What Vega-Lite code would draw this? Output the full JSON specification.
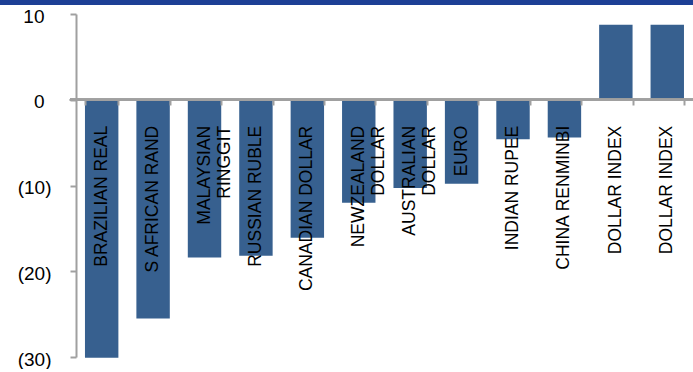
{
  "$schema": "https://vega.github.io/schema/vega-lite/v6.json",
  "padding": 0,
  "background": "white",
  "config": {"view": {"stroke": null}, "font": "Liberation Sans"},
  "spacing": 2,
  "vconcat": [
    {
      "width": 693,
      "height": 5,
      "data": {"values": [{"band": "header"}]},
      "mark": {"type": "rect", "color": "#1d3f95"},
      "encoding": {}
    },
    {
      "width": 693,
      "height": 343,
      "data": {
        "values": [
          {"pos": 1, "label": "BRAZILIAN REAL", "value": -30.1},
          {"pos": 2, "label": "S AFRICAN RAND", "value": -25.5},
          {"pos": 3, "label": ["MALAYSIAN", "RINGGIT"], "value": -18.4},
          {"pos": 4, "label": "RUSSIAN RUBLE", "value": -18.2},
          {"pos": 5, "label": "CANADIAN DOLLAR", "value": -16.1},
          {"pos": 6, "label": ["NEWZEALAND", "DOLLAR"], "value": -12.0},
          {"pos": 7, "label": ["AUSTRALIAN", "DOLLAR"], "value": -10.3},
          {"pos": 8, "label": "EURO", "value": -9.8},
          {"pos": 9, "label": "INDIAN RUPEE", "value": -4.6},
          {"pos": 10, "label": "CHINA RENMINBI", "value": -4.4},
          {"pos": 11, "label": "DOLLAR INDEX", "value": 8.75},
          {"pos": 12, "label": "DOLLAR INDEX", "value": 8.75}
        ]
      },
      "encoding": {
        "x": {
          "field": "pos",
          "type": "ordinal",
          "scale": {"paddingInner": 0.35, "paddingOuter": 0.914, "align": 0.904},
          "axis": {
            "orient": "bottom",
            "offset": -257,
            "labels": false,
            "domain": false,
            "title": null,
            "grid": false,
            "tickBand": "extent",
            "tickColor": "#a0a0a0",
            "tickWidth": 2,
            "tickSize": 5,
            "zindex": 1
          }
        }
      },
      "layer": [
        {
          "mark": {"type": "bar", "color": "#37608f"},
          "encoding": {
            "y": {
              "field": "value",
              "type": "quantitative",
              "scale": {"domain": [-30, 10], "nice": false, "zero": true},
              "axis": {
                "orient": "left",
                "offset": -76,
                "values": [10, 0, -10, -20, -30],
                "labelExpr": "datum.value < 0 ? '(' + format(-datum.value, 'd') + ')' : format(datum.value, 'd')",
                "title": null,
                "grid": false,
                "labelFont": "Liberation Sans",
                "labelFontSize": 19,
                "labelColor": "#000000",
                "labelAlign": "right",
                "labelPadding": {"condition": {"test": "datum.value >= 0", "value": 26}, "value": 19},
                "labelOffset": 2,
                "domainColor": "#a0a0a0",
                "domainWidth": 2,
                "tickColor": "#a0a0a0",
                "tickWidth": 2,
                "tickSize": 6,
                "zindex": 1
              }
            }
          }
        },
        {
          "mark": {"type": "rule", "color": "#a0a0a0", "strokeWidth": 2},
          "encoding": {
            "x": {"datum": 1, "type": "ordinal", "bandPosition": -0.45},
            "x2": {"datum": 12, "bandPosition": 1.27},
            "y": {"datum": 0, "type": "quantitative"}
          }
        },
        {
          "mark": {
            "type": "text",
            "angle": 270,
            "align": "right",
            "baseline": "middle",
            "dx": -26,
            "font": "Liberation Sans",
            "fontSize": 17.5,
            "lineHeight": 20,
            "color": "#000000"
          },
          "encoding": {
            "y": {"datum": 0, "type": "quantitative"},
            "text": {"field": "label", "type": "nominal"}
          }
        }
      ]
    }
  ]
}
